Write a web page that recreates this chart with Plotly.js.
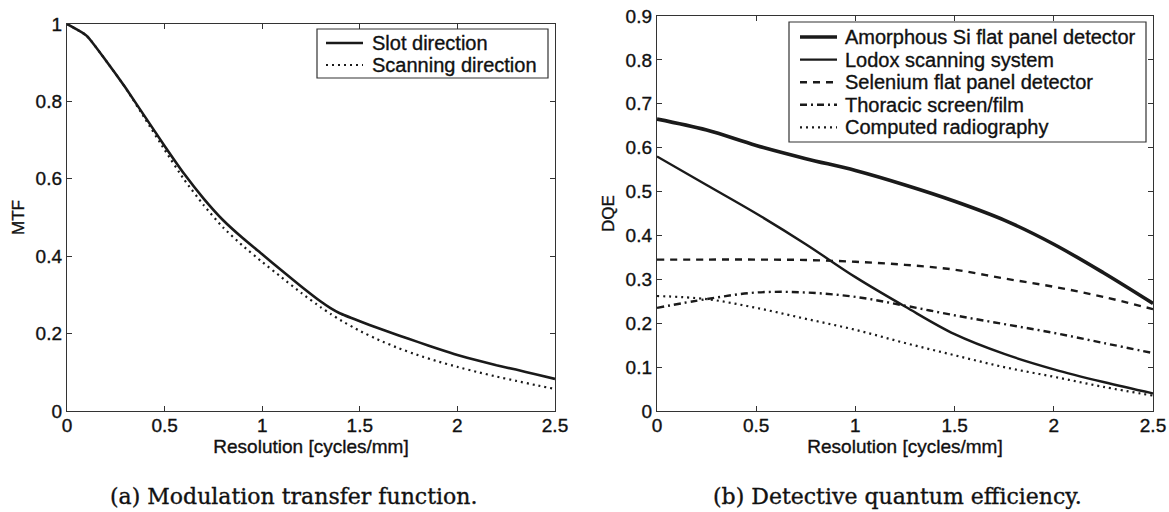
<!DOCTYPE html>
<html>
<head>
<meta charset="utf-8">
<script src="https://cdn.plot.ly/plotly-3.0.1.min.js"></script>
<style>
html,body{margin:0;padding:0;background:#fff;}
#chart{width:1169px;height:512px;}
#chart text{stroke:#111;stroke-width:0.35px;}
</style>
</head>
<body>
<div id="chart"></div>
<script>
// ---- Data: (a) Modulation transfer function ----
const mtfX = [0, 0.1, 0.2, 0.3, 0.4, 0.5, 0.6, 0.7, 0.8, 0.9, 1.0, 1.1, 1.2, 1.3, 1.35, 1.4, 1.5, 1.6, 1.7, 1.8, 1.9, 2.0, 2.1, 2.2, 2.3, 2.4, 2.5];
const mtfSlot = [1.0, 0.97, 0.905, 0.835, 0.76, 0.685, 0.613, 0.549, 0.493, 0.447, 0.405, 0.363, 0.322, 0.283, 0.266, 0.252, 0.232, 0.213, 0.195, 0.178, 0.161, 0.145, 0.131, 0.118, 0.107, 0.095, 0.083];
const mtfScan = [1.0, 0.97, 0.905, 0.835, 0.755, 0.675, 0.598, 0.532, 0.474, 0.427, 0.385, 0.345, 0.305, 0.268, 0.251, 0.235, 0.207, 0.183, 0.162, 0.144, 0.128, 0.114, 0.101, 0.089, 0.078, 0.067, 0.057];

// ---- Data: (b) Detective quantum efficiency ----
const dqeX = [0, 0.25, 0.5, 0.75, 1.0, 1.25, 1.5, 1.75, 2.0, 2.25, 2.5];
const dqeAmorphous = [0.665, 0.64, 0.605, 0.575, 0.548, 0.515, 0.478, 0.435, 0.38, 0.315, 0.245];
const dqeLodox = [0.58, 0.515, 0.45, 0.38, 0.305, 0.238, 0.175, 0.13, 0.095, 0.066, 0.04];
const dqeSelenium = [0.345, 0.345, 0.345, 0.344, 0.34, 0.333, 0.322, 0.302, 0.283, 0.26, 0.232];
const dqeThoracic = [0.235, 0.255, 0.27, 0.27, 0.26, 0.24, 0.218, 0.198, 0.178, 0.155, 0.132];
const dqeCR = [0.262, 0.255, 0.235, 0.21, 0.185, 0.155, 0.127, 0.1, 0.078, 0.055, 0.035];

const mtfNames = ['Slot direction', 'Scanning direction'];
const dqeNames = ['Amorphous Si flat panel detector', 'Lodox scanning system', 'Selenium flat panel detector', 'Thoracic screen/film', 'Computed radiography'];

const xTicks = [0, 0.5, 1, 1.5, 2, 2.5];
const xTickText = ['0', '0.5', '1', '1.5', '2', '2.5'];
const mtfTicks = [0, 0.2, 0.4, 0.6, 0.8, 1];
const mtfTickText = ['0', '0.2', '0.4', '0.6', '0.8', '1'];
const dqeTicks = [0, 0.1, 0.2, 0.3, 0.4, 0.5, 0.6, 0.7, 0.8, 0.9];
const dqeTickText = ['0', '0.1', '0.2', '0.3', '0.4', '0.5', '0.6', '0.7', '0.8', '0.9'];

const W = 1169, H = 512;
const px = v => v / W, py = v => 1 - v / H;
const INK = '#1a1a1a';
const F = 'Arial, "Liberation Sans", Helvetica, sans-serif';
const SERIF = '"DejaVu Serif", "Liberation Serif", serif';

const mtfStyles = [
  {color: INK, width: 2.6},
  {color: INK, width: 2.2, dash: '2px,4px'}
];
const dqeStyles = [
  {color: INK, width: 3.6},
  {color: INK, width: 2.4},
  {color: INK, width: 2.4, dash: '7px,6px'},
  {color: INK, width: 2.4, dash: '7px,4px,2px,4px'},
  {color: INK, width: 2.2, dash: '2px,4px'}
];
const dqeSeries = [dqeAmorphous, dqeLodox, dqeSelenium, dqeThoracic, dqeCR];

const traces = [
  {x: mtfX, y: mtfSlot, name: mtfNames[0], mode: 'lines', xaxis: 'x', yaxis: 'y',
   line: Object.assign({shape: 'spline', smoothing: 0.5}, mtfStyles[0])},
  {x: mtfX, y: mtfScan, name: mtfNames[1], mode: 'lines', xaxis: 'x', yaxis: 'y',
   line: Object.assign({shape: 'spline', smoothing: 0.5}, mtfStyles[1])}
];
dqeSeries.forEach((ys, i) => traces.push({
  x: dqeX, y: ys, name: dqeNames[i], mode: 'lines', xaxis: 'x2', yaxis: 'y2',
  line: Object.assign({shape: 'spline'}, dqeStyles[i])
}));

const axBase = {
  showline: true, linecolor: '#333', linewidth: 1.2, mirror: 'allticks',
  ticks: 'inside', ticklen: 5, tickwidth: 1, tickcolor: '#333',
  showgrid: false, zeroline: false, fixedrange: true,
  tickfont: {family: F, size: 19, color: '#111'}
};

// Manual legends (MATLAB-style boxes)
const shapes = [], annotations = [];
function legendBox(names, styles, box, rowY, sampleX0, sampleX1, textX) {
  shapes.push({type: 'rect', xref: 'paper', yref: 'paper', x0: px(box[0]), x1: px(box[1]),
    y0: py(box[2]), y1: py(box[3]), line: {color: '#333', width: 1.2}, fillcolor: '#fff', layer: 'above'});
  names.forEach((n, i) => {
    const y = rowY[0] + i * rowY[1];
    const st = styles[i];
    shapes.push({type: 'line', xref: 'paper', yref: 'paper', x0: px(sampleX0), x1: px(sampleX1),
      y0: py(y), y1: py(y), line: {color: st.color, width: st.width, dash: st.dash || 'solid'}, layer: 'above'});
    annotations.push({text: n, xref: 'paper', yref: 'paper', x: px(textX), y: py(y),
      xanchor: 'left', yanchor: 'middle', showarrow: false,
      font: {family: F, size: 20, color: '#111'}});
  });
}
legendBox(mtfNames, mtfStyles, [317, 548, 78, 29], [43, 22], 326, 363, 370);
legendBox(dqeNames, dqeStyles, [789, 1146, 142, 22], [37, 22.6], 800, 837, 843);

annotations.push(
  {text: '(a) Modulation transfer function.', xref: 'paper', yref: 'paper', x: px(293), y: py(496),
   xanchor: 'center', yanchor: 'middle', showarrow: false, font: {family: SERIF, size: 22, color: '#111'}},
  {text: '(b) Detective quantum efficiency.', xref: 'paper', yref: 'paper', x: px(897), y: py(496),
   xanchor: 'center', yanchor: 'middle', showarrow: false, font: {family: SERIF, size: 22, color: '#111'}}
);

const layout = {
  width: W, height: H,
  margin: {l: 0, r: 0, t: 0, b: 0},
  paper_bgcolor: '#fff', plot_bgcolor: '#fff',
  font: {family: F, color: '#111'},
  showlegend: false,
  xaxis: Object.assign({}, axBase, {domain: [px(67), px(555)], range: [0, 2.5], anchor: 'y',
    tickvals: xTicks, ticktext: xTickText, ticklabelstandoff: -3,
    title: {text: 'Resolution [cycles/mm]', font: {family: F, size: 19, color: '#111'}, standoff: 2}}),
  yaxis: Object.assign({}, axBase, {domain: [py(411), py(24)], range: [0, 1], anchor: 'x',
    tickvals: mtfTicks, ticktext: mtfTickText,
    title: {text: 'MTF', font: {family: F, size: 17, color: '#111'}, standoff: 6}}),
  xaxis2: Object.assign({}, axBase, {domain: [px(657), px(1153)], range: [0, 2.5], anchor: 'y2',
    tickvals: xTicks, ticktext: xTickText, ticklabelstandoff: -3,
    title: {text: 'Resolution [cycles/mm]', font: {family: F, size: 19, color: '#111'}, standoff: 2}}),
  yaxis2: Object.assign({}, axBase, {domain: [py(411), py(16)], range: [0, 0.9], anchor: 'x2',
    tickvals: dqeTicks, ticktext: dqeTickText,
    title: {text: 'DQE', font: {family: F, size: 17, color: '#111'}, standoff: 6}}),
  shapes: shapes,
  annotations: annotations
};

Plotly.newPlot('chart', traces, layout, {displayModeBar: false, staticPlot: true});
</script>
</body>
</html>
